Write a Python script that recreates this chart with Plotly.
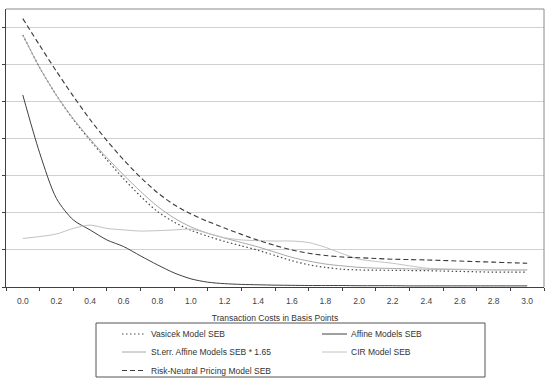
import plotly.graph_objects as go

# Transaction costs (basis points), sampled every 0.1
x = [round(i * 0.1, 1) for i in range(31)]
cat_labels = ["0.0", "0.2", "0.4", "0.6", "0.8", "1.0", "1.2", "1.4", "1.6", "1.8",
              "2.0", "2.2", "2.4", "2.6", "2.8", "3.0"]

vasicek = [6.80, 5.92, 5.17, 4.52, 3.96, 3.43, 2.92, 2.45, 2.04, 1.75, 1.53,
           1.37, 1.23, 1.11, 0.99, 0.85, 0.71, 0.60, 0.53, 0.48, 0.46,
           0.455, 0.45, 0.445, 0.44, 0.43, 0.42, 0.41, 0.40, 0.40, 0.40]
affine = [5.18, 3.62, 2.39, 1.81, 1.54, 1.27, 1.09, 0.84, 0.60, 0.38, 0.22,
          0.13, 0.09, 0.07, 0.06, 0.05, 0.045, 0.04, 0.04, 0.04, 0.035,
          0.035, 0.035, 0.03, 0.03, 0.03, 0.03, 0.03, 0.03, 0.03, 0.03]
sterr = [6.80, 5.92, 5.17, 4.54, 3.99, 3.49, 3.02, 2.58, 2.18, 1.86, 1.62,
         1.45, 1.32, 1.20, 1.08, 0.94, 0.80, 0.70, 0.62, 0.57, 0.53,
         0.51, 0.50, 0.49, 0.48, 0.475, 0.47, 0.465, 0.46, 0.46, 0.46]
cir = [1.31, 1.36, 1.43, 1.58, 1.67, 1.58, 1.54, 1.51, 1.52, 1.54, 1.56,
       1.45, 1.33, 1.27, 1.25, 1.24, 1.24, 1.20, 1.07, 0.90, 0.75,
       0.69, 0.64, 0.57, 0.51, 0.49, 0.48, 0.47, 0.465, 0.46, 0.46]
risk_neutral = [7.24, 6.52, 5.82, 5.15, 4.52, 3.95, 3.43, 2.96, 2.55, 2.22, 1.97,
                1.77, 1.59, 1.42, 1.26, 1.12, 1.00, 0.91, 0.85, 0.81, 0.79,
                0.77, 0.75, 0.74, 0.73, 0.715, 0.70, 0.685, 0.67, 0.655, 0.64]

names = ["Vasicek Model SEB", "Affine Models SEB", "St.err. Affine Models SEB * 1.65",
         "CIR Model SEB", "Risk-Neutral Pricing Model SEB"]
series = [vasicek, affine, sterr, cir, risk_neutral]
colors = ["#4a4a4a", "#404040", "#a8a8a8", "#c2c2c2", "#3a3a3a"]
dashes = ["1.5px,2.5px", "solid", "solid", "solid", "5px,3px"]
widths = [1.2, 1.0, 1.0, 1.0, 1.1]

FONT = "Liberation Sans, Arial, sans-serif"
W, H = 548, 388
L, R, T, B = 6, 4, 9, 101
pw, ph = W - L - R, H - T - B

fig = go.Figure()
for nm, ys, c, d, w in zip(names, series, colors, dashes, widths):
    fig.add_trace(go.Scatter(x=x, y=ys, name=nm, mode="lines",
                             line=dict(color=c, dash=d, width=w, shape="spline", smoothing=0.8),
                             showlegend=False, hoverinfo="skip"))

tick_pos = [i * 0.2 for i in range(16)]
minor_pos = [-0.1 + i * 0.2 for i in range(17)]

fig.update_layout(
    width=W, height=H,
    margin=dict(l=L, r=R, t=T, b=B),
    paper_bgcolor="white", plot_bgcolor="white",
    font=dict(family=FONT, size=8.5, color="#333333"),
    xaxis=dict(range=[-0.1, 3.1], tickmode="array", tickvals=tick_pos, ticktext=cat_labels,
               ticks="outside", ticklen=0, tickcolor="white", ticklabelstandoff=6,
               showline=True, linecolor="#404040", linewidth=1,
               showgrid=False, zeroline=False,
               minor=dict(tickmode="array", tickvals=minor_pos, ticks="outside",
                          ticklen=3, tickcolor="#404040", showgrid=False),
               title=dict(text="Transaction Costs in Basis Points", standoff=9,
                          font=dict(size=8.5, family=FONT, color="#333333")),
               tickfont=dict(size=8.5, family=FONT, color="#444444")),
    yaxis=dict(range=[0, 7.5], tickmode="array", tickvals=[0, 1, 2, 3, 4, 5, 6, 7],
               showticklabels=False, ticks="outside", ticklen=3, tickcolor="#404040",
               showline=True, linecolor="#404040", linewidth=1,
               showgrid=True, gridcolor="#d0d0d0", gridwidth=1, zeroline=False),
)

# Plot-area frame (top and right)
fig.add_shape(type="line", xref="paper", yref="paper", x0=0, x1=1, y0=1, y1=1,
              line=dict(color="#8a8a8a", width=1))
fig.add_shape(type="line", xref="paper", yref="paper", x0=1, x1=1, y0=0, y1=1,
              line=dict(color="#8a8a8a", width=1))

def px2paper(px, py):
    return (px - L) / pw, (H - B - py) / ph

# Manual legend box
x0, y0 = px2paper(96, 323)
x1, y1 = px2paper(485, 377)
fig.add_shape(type="rect", xref="paper", yref="paper", x0=x0, y0=y1, x1=x1, y1=y0,
              line=dict(color="#555555", width=1), fillcolor="rgba(0,0,0,0)")

entries = [
    (0, 122, 146, 149, 334),
    (1, 322, 347, 349, 334),
    (2, 122, 146, 149, 352),
    (3, 322, 347, 349, 352),
    (4, 122, 146, 149, 370.5),
]
for idx, sx0, sx1, tx, ty in entries:
    ax0, ay = px2paper(sx0, ty)
    ax1, _ = px2paper(sx1, ty)
    fig.add_shape(type="line", xref="paper", yref="paper", x0=ax0, x1=ax1, y0=ay, y1=ay,
                  line=dict(color=colors[idx], dash=dashes[idx], width=widths[idx]))
    tx_p, _ = px2paper(tx, ty)
    fig.add_annotation(xref="paper", yref="paper", x=tx_p, y=ay, text=names[idx],
                       showarrow=False, xanchor="left", yanchor="middle",
                       font=dict(size=8.5, family=FONT, color="#333333"))

fig.write_html("out.html")
